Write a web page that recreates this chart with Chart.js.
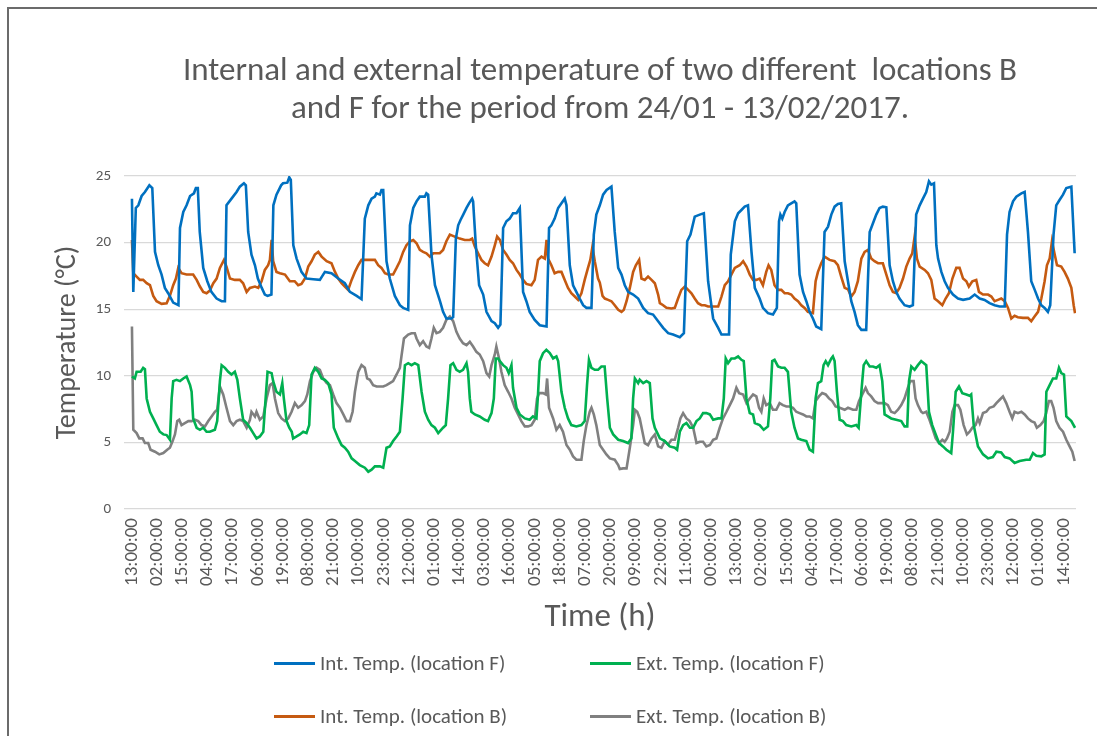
<!DOCTYPE html>
<html>
<head>
<meta charset="utf-8">
<script src="https://cdn.jsdelivr.net/npm/chart.js@4"></script>
<style>
  html, body { margin: 0; padding: 0; background: #ffffff; }
  #wrap { position: relative; width: 1097px; height: 736px; overflow: hidden; background: #fff; }
  #frame { position: absolute; left: 7px; top: 7px; width: 1200px; height: 900px; border-top: 2px solid #6b6b6b; border-left: 2px solid #6b6b6b; box-sizing: border-box; }
  canvas { position: absolute; left: 0; top: 0; }
  .lg { position: absolute; font-family: Carlito, Lato, "Liberation Sans", sans-serif; font-size: 21px; color: #595959; white-space: nowrap; line-height: 1; }
  .lg .ln { position: absolute; left: 0; top: 50%; width: 41px; height: 3px; margin-top: -1.5px; }
  .lg .tx { position: absolute; left: 46px; top: 50%; transform: translateY(-50%); }
</style>
</head>
<body>
<div id="wrap">
  <div id="frame"></div>
  <canvas id="c" width="1097" height="736"></canvas>
  <div id="legend"></div>
</div>
<script>
// ---- Data (hour offset from 24/01 13:00, temperature °C) ----
const titleLines = ['Internal and external temperature of two different  locations B', 'and F for the period from 24/01 - 13/02/2017.'];
const tickLabels = ["13:00:00","02:00:00","15:00:00","04:00:00","17:00:00","06:00:00","19:00:00","08:00:00","21:00:00","10:00:00","23:00:00","12:00:00","01:00:00","14:00:00","03:00:00","16:00:00","05:00:00","18:00:00","07:00:00","20:00:00","09:00:00","22:00:00","11:00:00","00:00:00","13:00:00","02:00:00","15:00:00","04:00:00","17:00:00","06:00:00","19:00:00","08:00:00","21:00:00","10:00:00","23:00:00","12:00:00","01:00:00","14:00:00"];
const tickEvery = 13;

const seriesNames = ["Int. Temp. (location F)", "Ext. Temp. (location F)", "Int. Temp. (location B)", "Ext. Temp. (location B)"];
const seriesColors = ["#0070C0", "#00B050", "#C55A11", "#808080"];

const intTempF = [[0,23.3],[0.7,16.3],[2,22.6],[3.3,22.8],[5,23.5],[6.7,23.8],[9,24.3],[10.5,24.1],[11.9,19.3],[13.6,18.3],[15.3,17.6],[17,16.6],[18.7,16.2],[21.3,15.5],[24,15.3],[24.8,21.1],[26.5,22.3],[28.2,22.8],[30,23.5],[32,23.7],[33,24.1],[34,24.1],[35,20.8],[36.8,18.1],[38.9,17.1],[41,16.3],[43.7,15.8],[46.3,15.6],[48,15.6],[48.8,22.8],[51.4,23.3],[54,23.8],[55.7,24.2],[57.8,24.45],[58.8,24.3],[60,20.8],[61.7,19.1],[63.5,18.3],[65,17.3],[67,16.6],[68.6,16.1],[70,16.0],[72,16.1],[73,22.8],[74.6,23.6],[77,24.3],[78,24.45],[80.2,24.5],[81.2,24.9],[82,24.7],[83.3,19.8],[85,18.8],[87.5,17.8],[90.1,17.3],[93.6,17.25],[97,17.2],[99.6,17.8],[103,17.7],[106.5,17.3],[109.9,16.95],[112.5,16.3],[116,16.0],[118.5,15.75],[120.2,21.8],[122,22.8],[123.7,23.3],[125.4,23.45],[126.2,23.7],[128,23.6],[128.8,23.95],[129.7,23.95],[131.4,18.6],[133.1,17.3],[135.7,16.0],[138.3,15.3],[140,15.1],[142.6,14.95],[143.5,21.3],[145.2,22.6],[146.9,23.1],[148.6,23.45],[151.2,23.45],[152,23.7],[152.9,23.6],[154.6,19.1],[156.4,16.8],[159,15.6],[160.6,14.8],[162.3,14.3],[164.9,14.3],[165.8,14.4],[167.2,20.3],[168.4,21.3],[169.6,21.7],[171,22.1],[172.7,22.6],[174,22.95],[175.6,23.3],[176.1,23.1],[177.5,19.8],[179.2,16.8],[181.3,16.1],[183,14.8],[185.6,14.1],[187.3,13.95],[189,13.6],[190.2,13.85],[191.6,21.1],[193.3,21.6],[195,21.8],[196.7,22.2],[198.5,22.2],[200.2,22.6],[201.9,16.3],[203.6,15.6],[205.3,14.8],[207.9,14.2],[210.5,13.8],[214,13.7],[215.3,21.1],[216.5,21.3],[218.2,21.8],[220,22.6],[221.7,22.95],[223.4,23.3],[224.3,22.8],[226,18.3],[227.7,16.8],[229.4,16.3],[231.1,15.8],[232.9,15.3],[234.6,15.1],[237.2,15.1],[238.4,20.6],[239.7,22.1],[241.5,22.8],[243.2,23.6],[245,23.95],[247.5,24.2],[249.2,20.8],[251,18.1],[252.7,17.6],[254.4,16.8],[256.1,16.3],[258.7,16.1],[261.3,15.8],[263.9,15.1],[266.4,14.7],[269,14.6],[271.6,14.1],[274.2,13.6],[276.8,13.2],[279.3,13.1],[282.8,12.9],[284.9,13.2],[286.6,20.1],[288.3,20.6],[290.5,21.95],[293.1,22.1],[295.2,22.2],[297.4,17.1],[300,14.3],[302.6,13.6],[304.3,13.1],[306.9,13.1],[308.2,13.1],[309.1,19.1],[311.2,21.6],[312.9,22.2],[314.6,22.45],[316.3,22.7],[318,22.8],[319.8,19.3],[321.5,16.6],[324,15.8],[325.7,15.1],[328.3,14.7],[330.9,14.6],[332.9,15.1],[334,21.6],[334.7,22.1],[335.7,21.8],[336.9,22.3],[338.6,22.8],[340.3,22.95],[342,23.1],[342.9,22.95],[344.6,17.6],[346.4,16.3],[348.1,15.6],[349.8,14.8],[351.5,14.3],[353.2,13.7],[355.8,13.5],[357.5,20.8],[359.3,21.2],[361,22.1],[362.7,22.7],[364.4,22.9],[366.1,22.95],[367.9,18.6],[369.6,17.1],[371.3,15.6],[373,14.8],[374.7,13.8],[376.5,13.45],[379,13.45],[380.8,20.8],[382.5,21.45],[384.2,22.1],[385.9,22.6],[387.6,22.7],[389.4,22.65],[391.1,18.3],[392.8,17.1],[394.5,16.3],[396.2,15.8],[398.8,15.3],[401.4,15.2],[403.1,15.3],[404.8,22.1],[406.6,22.8],[408.3,23.3],[410,23.8],[411.4,24.6],[412.6,24.35],[414,24.45],[415.2,19.8],[416.1,18.8],[417.8,17.8],[419.5,17.1],[421.2,16.6],[423.8,16.1],[426.4,15.8],[429,15.7],[432.4,15.8],[435,16.1],[437.6,15.8],[440.1,15.7],[442.7,15.45],[445.3,15.3],[447.9,15.2],[450.5,15.2],[451.7,20.6],[453,22.3],[454.8,23.1],[456.5,23.45],[459.1,23.7],[460.8,23.8],[462.5,20.8],[464.2,17.1],[466,16.45],[467.7,15.8],[469.4,15.3],[471.1,15.1],[472.8,14.8],[474,15.3],[475.7,20.6],[477.1,22.8],[478.8,23.2],[480.6,23.6],[482.3,24.1],[484.9,24.2],[486.6,19.2]];

const extTempF = [[0,9.95],[1.5,9.8],[2.4,10.3],[4.5,10.3],[5.8,10.6],[6.7,10.5],[7.6,8.3],[9.3,7.3],[11,6.8],[12.7,6.3],[14.4,5.8],[16.2,5.6],[17.9,5.55],[19.6,5.2],[20.5,8.3],[21.3,9.6],[23,9.7],[24.8,9.6],[26.5,9.8],[28.2,9.95],[30,9.3],[30.8,8.8],[31.6,6.8],[33.4,6.1],[35.1,5.95],[36.8,6.1],[38.5,5.8],[40.2,5.8],[42.8,5.95],[44,6.6],[45.4,9.6],[46.3,10.8],[48,10.6],[49.7,10.3],[51.4,10.1],[53.1,10.3],[54.4,9.7],[55.7,8.3],[57.4,6.7],[59.2,6.45],[60.9,6.1],[62.6,5.7],[64.3,5.3],[66,5.45],[67.8,5.8],[69,8.3],[70,10.3],[72.1,10.2],[72.9,9.6],[74.6,8.8],[76.4,8.6],[77.6,9.45],[78.4,8.3],[79.8,6.6],[81.2,6.1],[82.5,5.8],[83.2,5.3],[85,5.45],[86.7,5.6],[88.4,5.8],[90.1,5.7],[91.5,6.3],[92.7,10.1],[94.4,10.6],[96.2,10.3],[97.9,9.8],[99.6,9.7],[101.3,9.45],[103,8.6],[104.2,6.1],[106.5,5.3],[108.2,4.8],[109.9,4.6],[111.6,4.3],[113.4,3.8],[115.1,3.6],[117.6,3.3],[120.2,3.1],[122,2.8],[123.7,2.95],[125.4,3.2],[128,3.2],[129.7,3.1],[131.4,4.6],[133.1,4.7],[134.8,5.1],[136.6,5.45],[138.3,5.8],[139.7,8.3],[140.9,10.8],[142.6,10.95],[144.3,10.8],[146,10.95],[147.8,10.8],[149.5,8.8],[151.2,7.3],[152.9,6.7],[154.6,6.3],[156.4,6.1],[158.1,5.7],[160.6,6.1],[162,6.3],[163.2,8.3],[164.4,10.8],[165.8,10.95],[167.5,10.45],[169.2,10.3],[170.9,10.45],[172.7,10.95],[173.5,10.3],[174.4,8.3],[175.2,7.3],[177,7.1],[179.5,6.95],[182.1,6.7],[183.8,6.6],[185.6,7.2],[186.8,8.3],[187.8,11.3],[189,11.3],[189.9,11.1],[191.6,10.8],[193.3,10.6],[194.5,10.2],[195.9,10.8],[196.7,9.1],[198.5,7.6],[200.2,7.1],[202.8,6.8],[205.3,6.7],[207,6.95],[208.8,6.8],[209.6,8.6],[210.5,11.1],[212.2,11.7],[213.9,11.95],[215.7,11.7],[217.4,11.3],[219.1,11.45],[220,11.1],[221.7,8.8],[223.4,7.6],[225.1,6.8],[226.8,6.3],[229.4,6.2],[232,6.3],[233.7,6.6],[234.9,9.3],[235.9,11.2],[237.2,10.6],[238.9,10.45],[240.6,10.45],[242.3,10.7],[244,10.7],[245.3,8.3],[246.7,6.1],[248.4,5.6],[251,5.2],[253.5,5.1],[256.1,4.95],[257.8,5.3],[258.7,8.3],[259.6,9.8],[261.3,9.45],[262.1,9.7],[263.9,9.45],[265.6,9.6],[267.3,9.45],[268.7,6.8],[269.9,6.1],[272.5,5.3],[275,5.1],[277.6,4.7],[280.2,4.6],[281.4,4.45],[282.8,5.8],[284.5,6.3],[286.2,6.45],[288,6.1],[289.7,6.1],[291.4,6.6],[293.1,6.8],[294.8,7.2],[296.5,7.2],[298.3,7.1],[300,6.7],[302.6,6.8],[304.3,6.8],[305.5,8.3],[306.5,11.3],[307.7,10.95],[309.4,11.3],[311.2,11.3],[312.9,11.45],[314.6,11.2],[315.8,11.1],[317.2,8.3],[318.9,7.2],[320.6,7.1],[321.5,6.45],[324,6.3],[326.1,5.95],[328.3,6.2],[329.5,8.3],[330.5,11.1],[331.7,11.2],[333.5,10.7],[335.2,10.6],[336.9,10.6],[338.6,10.3],[340.3,7.3],[342,6.1],[343.8,5.3],[345.5,5.2],[348.1,5.1],[349.8,4.45],[351.5,4.3],[352.9,8.3],[354.1,9.45],[355.8,9.6],[357,10.8],[358.1,11.1],[359.3,10.8],[361,11.3],[361.8,11.45],[362.7,11.1],[363.9,8.8],[365.3,6.7],[367,6.6],[368.7,6.3],[371.3,6.2],[373.9,6.3],[375.1,6.1],[376.5,8.8],[377.7,10.8],[379,11.1],[380.8,10.7],[382.5,10.7],[384.2,10.6],[385.9,10.8],[387.3,9.6],[388.5,7.1],[390.2,6.95],[391.9,6.8],[394.5,6.7],[397.1,6.6],[398.8,6.2],[400.2,6.2],[401.1,9.6],[402.3,10.7],[404,10.45],[405.7,10.8],[407.4,11.1],[408.3,11.0],[410,10.8],[411.4,7.3],[413.1,6.3],[414.9,5.6],[416.6,4.95],[418.6,4.7],[420.4,4.45],[422.9,4.2],[423.8,5.8],[425.2,8.8],[426.9,9.2],[428.6,8.7],[430.7,8.6],[432.4,8.5],[433.2,8.6],[434.5,6.3],[436.7,4.7],[439.3,4.1],[441.9,3.8],[444.4,3.9],[446.2,4.3],[448.7,4.25],[450.5,3.9],[453,3.8],[455.6,3.45],[458.2,3.6],[461.6,3.7],[463.4,3.7],[465.1,4.2],[466.8,4.0],[469.4,3.95],[471.1,4.1],[472,8.8],[473.7,9.3],[475.4,9.8],[477.1,9.8],[478.5,10.6],[479.7,10.2],[481.1,10.1],[482.3,6.95],[484.9,6.6],[486.8,6.1]];

const intTempB = [[0,20.2],[0.7,17.7],[2.4,17.45],[4.1,17.2],[5.8,17.2],[7.6,16.95],[9.3,16.8],[11,16.0],[12.7,15.6],[15.3,15.4],[17.9,15.45],[19.6,16.0],[21.3,16.8],[22.7,17.3],[23.9,18.1],[25.6,17.7],[28.2,17.6],[31.6,17.6],[33.4,17.2],[35.1,16.7],[36.8,16.3],[38.5,16.2],[40.2,16.4],[42,16.95],[43.7,17.3],[45.4,18.1],[47.5,18.7],[48.8,18.2],[50.6,17.3],[53.1,17.2],[55.7,17.2],[57.4,16.95],[59.2,16.3],[60.9,16.6],[63.5,16.7],[65.2,16.6],[66.9,17.1],[68.6,17.95],[70.3,18.3],[71.2,18.7],[72.1,20.2],[72.9,18.6],[74.6,17.8],[76.4,17.7],[79,17.6],[81.5,17.1],[84,17.1],[85.8,16.8],[87.5,16.9],[89.3,17.3],[91,18.2],[92.7,18.6],[94.4,19.1],[96.2,19.3],[97.9,18.95],[100.5,18.6],[103,18.45],[104.8,17.8],[106.5,17.3],[108.2,16.95],[109.9,16.7],[111.6,16.45],[113.4,17.2],[115.1,17.8],[116.8,18.3],[118.5,18.7],[120.2,18.7],[122.8,18.7],[125.4,18.7],[127.1,18.3],[128.8,18.1],[130.6,17.7],[132.3,17.6],[134.8,17.6],[136.6,18.1],[138.3,18.6],[140,19.3],[141.7,19.8],[143.5,20.1],[145.2,20.2],[146.9,19.95],[148.6,19.45],[150.3,19.3],[152,19.2],[153.8,18.95],[155.5,19.2],[157.2,19.2],[158.9,19.2],[160.6,19.45],[162.3,20.1],[164.1,20.6],[166.6,20.45],[169.2,20.3],[171.8,20.2],[174.4,20.2],[175.6,20.3],[177,19.7],[178.7,19.2],[180.4,18.7],[182.1,18.45],[183.8,18.3],[185.6,18.95],[187.3,19.8],[188.5,20.45],[189.9,20.2],[191.6,19.45],[193.3,19.1],[195,18.7],[196.7,18.45],[198.5,17.95],[200.2,17.6],[201.9,17.2],[203.6,16.9],[206.2,16.8],[207.9,17.2],[209.6,18.7],[211.4,18.95],[213.1,18.8],[214,20.2],[214.8,18.8],[216.5,18.3],[218.2,17.7],[220,17.8],[221.7,17.8],[223.4,17.2],[225.1,16.6],[226.8,16.2],[228.6,15.95],[230.3,15.7],[232,16.2],[233.7,17.2],[235.4,18.1],[236.6,18.7],[237.7,19.7],[238.9,18.6],[240.6,17.3],[241.5,17.0],[242.9,16.0],[244.1,15.8],[245.8,15.7],[247.5,15.6],[249.2,15.3],[251,14.95],[252.7,14.8],[253.9,14.95],[255.3,15.6],[257,16.6],[258.7,17.8],[260.1,18.3],[261.8,18.7],[263,17.3],[264.7,17.2],[266.4,17.45],[268.2,17.2],[269.9,16.95],[271.6,16.1],[272.5,15.45],[274.2,15.3],[275.9,15.1],[278.5,15.05],[280.2,15.1],[281.9,15.8],[283.6,16.45],[285.4,16.7],[287.1,16.45],[288.8,16.2],[290.5,15.8],[292.2,15.45],[294,15.3],[295.7,15.3],[297.4,15.2],[300,15.2],[302.6,15.2],[304.3,15.95],[306,16.8],[307.7,17.1],[309.4,17.6],[311.2,18.1],[313.7,18.3],[315.5,18.6],[317.2,18.2],[318.9,17.6],[320.6,17.2],[322.3,17.2],[324,17.3],[325.7,16.8],[327.4,17.8],[328.6,18.3],[330,17.95],[331.7,16.8],[333.5,16.45],[335.2,16.45],[336.9,16.2],[338.6,16.2],[340.3,16.1],[342,15.8],[343.8,15.6],[345.5,15.3],[347.2,15.1],[348.9,14.8],[351.5,14.7],[352.9,17.1],[354.1,17.8],[355.8,18.45],[357.5,18.95],[360.1,18.7],[362.7,18.6],[364.4,18.3],[366.1,17.45],[367.9,16.6],[369.6,16.5],[371.3,15.95],[373,16.3],[374.7,17.1],[376.5,18.8],[378.2,19.3],[379.9,19.45],[381.6,18.8],[383.3,18.6],[385.1,18.45],[387.6,18.45],[389.4,17.6],[391.1,16.8],[392.8,16.3],[394.5,16.2],[396.2,16.6],[398,17.3],[399.7,18.2],[401.4,18.8],[402.8,19.2],[404,20.45],[405.2,18.8],[406.6,18.2],[409.2,17.95],[410.9,17.7],[412.6,17.2],[414.3,15.8],[416.1,15.6],[418.3,15.3],[420,15.8],[421.7,16.2],[423.5,17.3],[425.5,18.1],[427.2,18.1],[429,17.3],[430.7,17.1],[432,16.7],[433.8,17.1],[435.8,17.2],[437.2,16.3],[439.3,16.1],[441.9,16.1],[443.6,15.95],[445.3,15.6],[447,15.7],[448.7,15.8],[450.5,15.6],[452.2,15.1],[453.9,14.3],[455.6,14.5],[457.3,14.4],[459.9,14.35],[462.5,14.35],[464.2,14.1],[465.9,14.45],[467.7,14.8],[469.4,15.8],[471.1,17.1],[472.3,18.3],[473.7,18.8],[474.9,20.1],[476.3,19.1],[477.5,18.3],[479.7,18.2],[481.4,17.8],[483.1,17.3],[484.9,16.6],[486.1,15.3],[486.8,14.7]];

const extTempB = [[0,13.7],[0.7,5.95],[2.4,5.7],[3.8,5.3],[5.5,5.3],[6.7,4.95],[8.4,4.95],[9.6,4.45],[11.9,4.3],[14.1,4.1],[16.2,4.2],[18.2,4.45],[19.6,4.6],[21,5.1],[22.2,5.6],[23.4,6.6],[24.4,6.7],[25.6,6.3],[27.3,6.45],[29.1,6.6],[30.8,6.6],[32.5,6.7],[34.2,6.6],[35.9,6.3],[37.7,6.2],[39.4,6.6],[41.1,6.95],[42.8,7.3],[44,7.45],[45.4,9.2],[47.1,8.6],[48.8,7.6],[50.6,6.6],[52.3,6.3],[54,6.6],[55.7,6.7],[57.4,6.6],[59.2,6.1],[60.9,6.7],[61.7,7.3],[63.5,6.95],[64.3,7.3],[66,6.7],[67.8,6.95],[69.5,8.3],[71.2,9.3],[72.6,9.45],[73.8,8.3],[75.5,7.2],[77.2,6.8],[79,6.6],[80.7,6.8],[82.4,7.3],[84.1,7.95],[85.8,7.6],[87.6,7.8],[89.3,8.1],[90.5,8.6],[91.9,9.6],[93.6,10.3],[95.3,10.6],[97,10.45],[98.7,9.8],[100.5,9.45],[102.2,9.3],[103.9,8.6],[105.6,7.95],[107.3,7.6],[109.1,7.1],[110.8,6.6],[112.5,6.6],[113.9,7.3],[115.1,8.8],[116.8,10.3],[118.5,10.8],[120.2,10.6],[121.4,9.8],[122.8,9.7],[124.5,9.3],[126.3,9.2],[129.7,9.2],[131.4,9.3],[133.1,9.45],[134.8,9.6],[136.6,10.1],[138.3,10.6],[139.1,11.45],[140.4,12.8],[142.6,13.1],[144.3,13.2],[146,13.2],[146.9,12.8],[148.6,12.3],[150.3,12.6],[152,12.2],[153.4,12.1],[154.6,12.8],[155.8,13.6],[157.2,13.2],[158.9,13.3],[160.6,13.6],[162.3,14.2],[164.1,14.45],[165.8,14.1],[167.5,13.3],[169.2,12.8],[170.9,12.45],[172.7,12.3],[174.4,12.55],[176.1,12.2],[177.8,11.8],[179.5,11.6],[181.3,11.1],[183,10.2],[184.4,9.95],[185.6,10.8],[187.3,11.6],[188.1,12.2],[189.5,11.3],[190.7,10.3],[192.4,9.3],[194.2,8.8],[195.9,8.3],[197.6,7.6],[199.3,7.1],[201,6.6],[202.8,6.2],[204.5,6.2],[206.2,6.3],[207.9,6.7],[209.1,8.3],[210.2,8.7],[212.2,8.7],[213.6,8.6],[214.3,9.8],[215.3,7.6],[217.4,6.8],[219.1,5.95],[220.8,6.3],[222.5,5.8],[224.3,4.8],[226,4.45],[227.7,3.95],[229.4,3.7],[232,3.7],[233.2,5.1],[234.6,6.3],[236.3,7.3],[237.2,7.6],[238.4,7.1],[239.7,6.3],[241.5,4.8],[243.2,4.45],[244.9,4.1],[246.7,3.8],[249.2,3.7],[251,3.3],[251.8,3.0],[253.5,3.05],[255.3,3.05],[257,4.6],[258.7,6.3],[259.6,7.45],[260.8,7.3],[262.1,6.8],[263.5,5.8],[264.7,4.95],[266.4,4.8],[268.2,5.3],[269.9,5.6],[271.6,4.7],[273.3,4.6],[275,5.1],[276.8,4.85],[278.5,5.2],[280.2,5.2],[281.9,6.1],[283.1,6.8],[284.5,7.2],[286.2,6.8],[287.9,6.6],[289.7,6.1],[291.4,4.95],[293.1,5.05],[294.8,5.05],[296.5,4.7],[298.3,4.8],[300,5.2],[301.7,5.3],[303.4,6.1],[305.1,6.8],[306.9,7.3],[308.6,7.8],[310.3,8.3],[312,9.1],[313.4,8.7],[315.5,8.6],[317.2,7.95],[318.9,8.3],[320.6,8.6],[322.3,8.45],[323.7,7.6],[324.9,7.3],[326.1,8.3],[327.4,7.8],[329.2,7.95],[330.9,7.45],[332.6,7.45],[334.3,7.95],[336,7.8],[337.8,7.7],[339.5,7.7],[341.2,7.6],[342.9,7.3],[344.6,7.2],[346.4,7.1],[348.1,6.95],[349.8,6.95],[351.5,6.8],[352.9,8.1],[354.6,8.45],[356.3,8.7],[358.1,8.6],[359.8,8.3],[361.5,8.1],[363.2,7.7],[365.3,7.6],[367.9,7.45],[369.6,7.6],[372.2,7.45],[373.9,7.45],[375.3,8.1],[377,8.6],[378.7,9.1],[379.9,8.7],[381.6,8.45],[383.3,8.1],[385.1,7.95],[386.8,7.95],[388.5,7.95],[390.2,7.8],[391.9,7.3],[393.7,7.2],[395.4,7.45],[397.1,7.8],[398.8,8.3],[400.5,9.1],[401.7,9.6],[403.5,9.6],[404.5,8.3],[405.7,7.8],[407.4,7.3],[408.3,7.2],[410,7.3],[411.4,6.8],[413.1,6.1],[414.9,5.3],[416.6,4.95],[418.3,5.2],[419.5,5.05],[420.7,5.3],[422.1,5.8],[423.5,7.3],[424.7,7.8],[426.4,7.8],[427.6,7.45],[429.3,6.3],[431,5.6],[432.4,5.8],[433.8,6.1],[435.5,6.3],[436.7,6.8],[437.6,6.45],[439.3,7.2],[441,7.3],[442.7,7.6],[444.8,7.7],[446.2,7.95],[447.9,8.2],[449.6,8.45],[451.3,7.95],[453,7.3],[454.4,6.8],[455.6,7.3],[457.3,7.2],[459.1,7.3],[460.8,7.1],[462.5,6.8],[464.2,6.6],[465.9,6.5],[467.1,6.1],[468.9,6.3],[470.6,6.6],[471.9,7.2],[473.3,8.1],[474.5,8.1],[475.7,7.6],[477.1,6.6],[478.8,6.1],[480.6,5.8],[482.3,5.2],[484,4.7],[485.4,4.3],[486.6,3.6]];

const seriesData = [intTempF, extTempF, intTempB, extTempB];
const drawOrder = [0, 2, 1, 3];

const FONT = 'Carlito, Lato, "Liberation Sans", sans-serif';
const TXT = '#595959';

const toXY = arr => arr.map(p => ({ x: p[0], y: p[1] }));

const datasets = drawOrder.map(i => ({
  label: seriesNames[i],
  data: toXY(seriesData[i]),
  borderColor: seriesColors[i],
  backgroundColor: seriesColors[i],
  borderWidth: 2.6,
  pointRadius: 0,
  tension: 0,
  fill: false
}));

const titlePlugin = {
  id: 'frameTitle',
  afterDraw(chart) {
    const ctx = chart.ctx;
    ctx.save();
    ctx.fillStyle = TXT;
    ctx.font = '33px ' + FONT;
    ctx.textAlign = 'center';
    ctx.textBaseline = 'middle';
    ctx.fillText(titleLines[0], 600, 72);
    ctx.fillText(titleLines[1], 600, 110);
    ctx.restore();
  }
};

new Chart(document.getElementById('c'), {
  type: 'line',
  data: { datasets },
  plugins: [titlePlugin],
  options: {
    responsive: false,
    animation: false,
    events: [],
    layout: { padding: { left: 0, right: 21, top: 176, bottom: 96 } },
    plugins: {
      legend: { display: false },
      tooltip: { enabled: false },
      title: { display: false }
    },
    scales: {
      x: {
        type: 'linear',
        min: -4.1,
        max: 487.3,
        grid: { display: false, drawTicks: false },
        border: { display: false },
        afterBuildTicks: s => { s.ticks = tickLabels.map((_, i) => ({ value: i * tickEvery })); },
        afterFit: s => { s.height = 131; },
        ticks: {
          autoSkip: false,
          maxRotation: 90,
          minRotation: 90,
          padding: 9,
          color: TXT,
          font: { family: FONT, size: 19 },
          callback: (v) => tickLabels[Math.round(v / tickEvery)]
        },
        title: {
          display: true,
          text: 'Time (h)',
          color: TXT,
          font: { family: FONT, size: 33 },
          padding: { top: 0, bottom: 2 }
        }
      },
      y: {
        min: 0,
        max: 25,
        grid: { color: '#d9d9d9', lineWidth: 1.3, drawTicks: false },
        border: { display: false },
        afterFit: s => { s.width = 124; },
        ticks: {
          stepSize: 5,
          padding: 13,
          color: TXT,
          font: { family: FONT, size: 15 }
        },
        title: {
          display: true,
          text: 'Temperature (°C)',
          color: TXT,
          font: { family: FONT, size: 28 },
          padding: { top: 51, bottom: 0 }
        }
      }
    }
  }
});

const legendPos = [
  { i: 0, left: 274, top: 663 },
  { i: 1, left: 590, top: 663 },
  { i: 2, left: 274, top: 716 },
  { i: 3, left: 590, top: 716 }
];
const lg = document.getElementById('legend');
legendPos.forEach(p => {
  const d = document.createElement('div');
  d.className = 'lg';
  d.style.left = p.left + 'px';
  d.style.top = (p.top - 12) + 'px';
  d.style.height = '24px';
  d.style.width = '320px';
  d.innerHTML = '<span class="ln" style="background:' + seriesColors[p.i] + '"></span><span class="tx">' + seriesNames[p.i] + '</span>';
  lg.appendChild(d);
});
</script>
</body>
</html>
